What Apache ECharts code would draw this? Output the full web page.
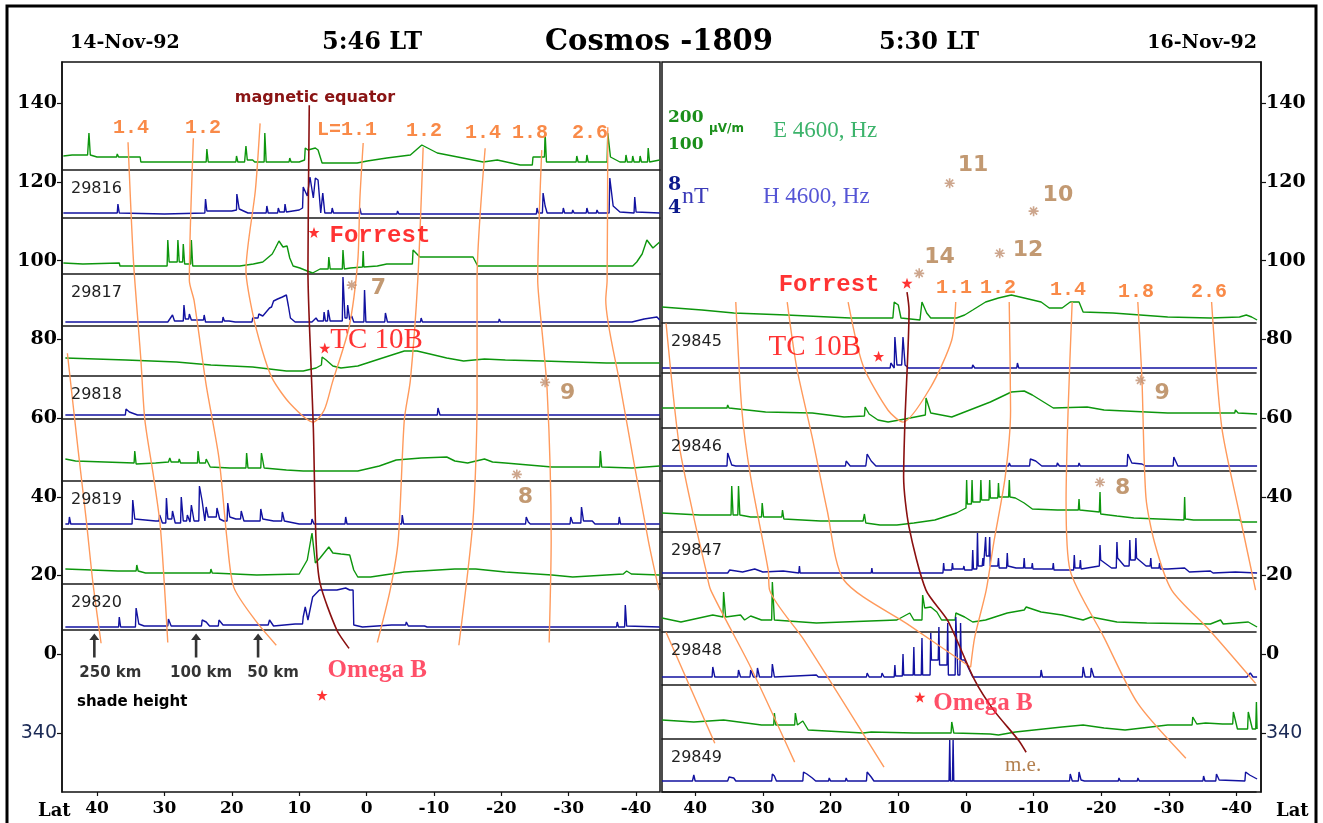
<!DOCTYPE html>
<html>
<head>
<meta charset="utf-8">
<title>Cosmos-1809</title>
<script src="https://cdn.jsdelivr.net/npm/echarts@6/dist/echarts.min.js"></script>
<style>
html, body { margin: 0; padding: 0; background: #fff; }
#chart { width: 1323px; height: 823px; }
</style>
</head>
<body>
<div id="chart"></div>
<script>
// axis ticks
var latTicks = [40, 30, 20, 10, 0, -10, -20, -30, -40];
var lonTicks = [140, 120, 100, 80, 60, 40, 20, 0, -20];   // -20 shown as 340

// traces: [lat, level above strip baseline]; e = E 4600 Hz (green), h = H 4600 Hz (blue)
// 14-Nov-92
var e29816 = [[45.0,14],[43.7,15],[41.4,15],[41.2,37],[41.0,15],[40.0,13],[37.1,13],[37.0,16],[36.8,13],[33.6,13],[33.5,8],[23.8,8],[23.7,21],[23.5,8],[19.8,8],[19.4,8],[19.3,14],[19.1,8],[18.1,8],[18.0,10],[17.9,24],[17.7,10],[16.9,10],[16.8,12],[16.6,8],[15.2,8],[15.1,37],[14.9,8],[11.5,8],[11.4,12],[11.2,8],[10.0,8],[9.9,10],[9.2,10],[9.1,22],[8.7,20],[7.6,22],[7.2,20],[6.6,7],[1.4,7],[-0.1,9],[-3.0,12],[-6.5,15],[-8.2,25],[-10.5,17],[-15.8,10],[-17.3,8],[-19.4,10],[-19.6,8],[-22.8,5],[-24.6,5],[-24.7,13],[-26.4,13],[-26.5,37],[-26.7,8],[-31.1,8],[-31.2,14],[-31.4,8],[-32.6,8],[-32.7,15],[-32.9,8],[-35.7,8],[-35.8,37],[-36.2,13],[-37.6,8],[-38.4,8],[-38.5,15],[-38.7,8],[-39.4,8],[-39.5,14],[-39.7,8],[-40.5,8],[-40.6,14],[-40.8,8],[-41.7,8],[-41.8,22],[-42.0,8],[-43.5,10]];
var h29816 = [[45.0,5],[37.0,5],[36.9,14],[36.7,5],[30,4],[24.0,5],[23.9,19],[23.7,7],[20,7],[19.3,8],[19.25,24],[18.9,9],[17.6,5],[14.9,5],[14.8,12],[14.6,5],[13.2,5],[13.1,10],[12.9,6],[12.2,6],[12.1,14],[11.9,6],[10,8],[9.5,10],[9.4,31],[8.8,22],[8.4,41],[7.9,20],[7.6,40],[7.2,38],[6.8,5],[6.6,5],[6.5,25],[6.2,5],[5.9,5],[5.2,5],[5.1,10],[4.9,5],[1.1,5],[1.0,10],[0.8,4],[-4.5,4],[-4.6,7],[-4.8,4],[-9.9,4],[-10,6],[-10.2,4],[-22.5,4],[-22.6,6],[-22.8,4],[-25.2,4],[-25.3,10],[-25.5,5],[-26.1,5],[-26.2,25],[-26.5,12],[-26.8,5],[-29.1,5],[-29.2,10],[-29.4,5],[-30.5,5],[-30.6,8],[-30.8,5],[-32.6,5],[-32.7,10],[-32.9,5],[-34.1,5],[-34.2,8],[-34.4,5],[-36.0,5],[-36.1,40],[-36.6,12],[-37.6,6],[-39.7,5],[-39.8,21],[-40.0,6],[-43.5,5]];
var e29817 = [[45.0,11],[42.1,10],[36.7,11],[36.6,8],[29.6,8],[29.5,34],[29.3,12],[28.1,12],[28.0,34],[27.8,12],[27.3,12],[27.2,30],[27.0,10],[26.1,10],[26.0,34],[25.8,8],[18.8,8],[18.7,6],[16.8,10],[15.4,12],[14.0,20],[13.6,25],[13.0,33],[12.4,27],[11.8,28],[11.4,16],[10.9,8],[9.9,6],[8.8,3],[8.0,1],[6.9,5],[5.7,5],[5.6,17],[5.4,5],[3.6,5],[3.5,24],[3.3,5],[2.4,6],[0.6,7],[0.5,23],[0.4,7],[-1.6,8],[-3.0,10],[-6.8,10],[-6.9,24],[-7.9,17],[-15.8,17],[-16.5,8],[-39.5,8],[-40.1,12],[-40.9,20],[-41.6,34],[-42.5,26],[-43.5,32]];
var h29817 = [[44.7,4],[41.3,4],[41.2,6],[41.0,4],[31.9,4],[31.8,6],[31.6,4],[29.5,4],[29.4,6],[28.8,11],[28.5,5],[27.2,5],[27.1,21],[26.9,7],[26.4,7],[26.3,12],[26.0,6],[24.2,6],[24.1,11],[23.9,4],[21.4,4],[21.3,9],[21.1,5],[20.4,5],[20.3,7],[19.5,4],[17.0,4],[16.9,8],[16.1,8],[16.0,12],[15.4,10],[14.4,18],[14.1,19],[13.8,25],[13.2,27],[12.5,29],[11.9,31],[11.6,20],[11.3,8],[10.6,4],[8.1,4],[7.5,8],[7.2,5],[6.4,5],[6.3,14],[6.1,5],[5.8,5],[5.7,16],[5.4,5],[3.6,5],[3.5,49],[3.2,8],[2.9,8],[2.8,21],[2.5,6],[2.2,10],[1.9,4],[0.4,4],[0.3,36],[0.1,4],[-2.7,4],[-2.8,13],[-3.1,4],[-8.0,4],[-8.1,8],[-8.3,4],[-19.6,4],[-19.7,7],[-19.9,4],[-26.1,4],[-26.2,6],[-26.6,4],[-39.4,4],[-41.2,7],[-43.1,9],[-43.5,6]];
var e29818 = [[44.7,18],[35.7,16],[28.2,14],[23.1,11],[16.9,9],[11.9,5],[9.4,5],[7.5,8],[6.7,11],[6.6,19],[6.0,16],[5.0,10],[3.8,8],[1.3,10],[-1.9,17],[-5.6,25],[-7.5,25],[-9.4,22],[-11.9,18],[-14.4,15],[-17.5,17],[-20.6,16],[-26.2,15],[-35.6,13],[-43.5,13]];
var h29818 = [[44.7,4],[35.8,4],[35.7,10],[35.2,7],[34.0,4],[31.3,4],[31.2,6],[30.9,4],[26.7,4],[26.6,5],[26.4,4],[13.9,4],[13.8,6],[13.6,4],[-1.8,4],[-1.9,6],[-2.1,4],[-10.5,4],[-10.6,11],[-10.9,4],[-32.4,4],[-32.5,6],[-32.7,4],[-43.5,4]];
var e29819 = [[44.7,22],[43.2,20],[34.5,18],[34.4,30],[34.2,17],[31.3,18],[29.4,19],[29.2,23],[29.0,19],[27.9,19],[27.8,22],[27.6,18],[25.1,18],[25.0,30],[24.8,18],[23.9,18],[23.8,22],[23.2,14],[20.3,13],[17.9,13],[17.8,28],[17.6,13],[15.7,13],[15.6,28],[15.2,13],[11.9,11],[9.4,10],[1.3,10],[-1.9,15],[-4.4,21],[-8.1,23],[-11.9,24],[-13.1,20],[-15.0,18],[-17.5,22],[-18.7,19],[-20.6,18],[-27.5,14],[-34.6,14],[-34.7,30],[-34.9,14],[-39.4,13],[-43.5,15]];
var h29819 = [[44.7,5],[44.2,5],[44.1,12],[43.9,5],[34.8,5],[34.7,29],[34.4,10],[31.3,8],[30.8,8],[30.7,14],[30.3,6],[29.8,6],[29.7,31],[29.5,10],[28.9,10],[28.8,18],[28.4,6],[27.6,6],[27.5,32],[27.2,8],[26.7,8],[26.6,14],[26.2,7],[26.1,7],[26.0,24],[25.6,8],[24.9,8],[24.8,43],[24.4,28],[24.0,8],[23.9,8],[23.8,22],[23.5,12],[22.3,12],[22.2,21],[21.8,10],[21.2,8],[20.7,8],[20.6,26],[20.3,12],[19.4,10],[18.7,10],[18.6,18],[18.2,8],[15.8,8],[15.7,20],[15.4,10],[13.8,8],[12.6,8],[12.5,17],[12.2,8],[10.0,5],[8.2,5],[8.1,10],[7.8,5],[3.2,5],[3.1,12],[2.9,5],[-5.2,5],[-5.3,14],[-5.5,5],[-13.0,5],[-13.1,6],[-13.3,5],[-23.6,5],[-23.7,12],[-24.0,7],[-24.3,5],[-30.2,5],[-30.3,12],[-30.6,6],[-31.8,6],[-31.9,22],[-32.2,8],[-33.5,8],[-33.6,10],[-33.9,5],[-37.4,5],[-37.5,12],[-37.7,5],[-43.5,5]];
var e29820 = [[44.7,15],[36.9,13],[34.2,13],[34.1,19],[33.9,13],[32.8,11],[23.2,11],[23.1,15],[22.9,11],[16.3,9],[10.0,10],[8.8,24],[8.1,51],[7.6,21],[6.9,26],[5.6,37],[5.0,31],[3.8,30],[2.5,29],[1.9,14],[1.3,7],[-0.6,7],[-5.6,12],[-13.1,15],[-16.2,15],[-20.6,12],[-27.5,9],[-30.6,7],[-38.1,10],[-38.6,13],[-39.3,10],[-43.5,9]];
var h29820 = [[44.7,3],[36.8,3],[36.7,13],[36.5,3],[34.3,3],[34.2,22],[33.8,6],[33.0,4],[29.5,4],[29.4,11],[29.0,4],[24.5,4],[24.4,10],[23.8,8],[23.3,4],[22.0,4],[21.9,10],[21.3,5],[14.6,5],[14.4,10],[13.8,4],[10.6,6],[9.5,6],[9.4,13],[9.1,23],[8.7,10],[8.0,33],[7.0,40],[4.4,40],[3.1,42],[2.5,40],[2.0,40],[1.9,5],[0.6,3],[-3.7,5],[-5.8,5],[-5.9,8],[-6.2,4],[-8.6,4],[-8.7,6],[-9.0,3],[-37.1,3],[-37.2,8],[-37.4,3],[-38.3,3],[-38.4,25],[-38.6,4],[-43.5,3]];
// 16-Nov-92
var e29845 = [[44.9,16],[39.0,13],[34.3,10],[26.5,8],[17.1,5],[10.8,5],[10.6,21],[10.0,18],[9.6,5],[6.8,3],[6.5,21],[5.8,10],[5.2,5],[1.4,5],[0.2,8],[-1.0,13],[-2.9,21],[-4.8,25],[-6.7,28],[-8.6,25],[-11.1,21],[-12.3,15],[-14.2,15],[-15.4,21],[-16.7,21],[-17.3,11],[-21.7,10],[-29.8,6],[-36.1,5],[-40.4,6],[-41.4,8],[-42.2,6],[-43.0,3]];
var h29845 = [[44.9,5],[41.6,5],[41.5,6],[40.5,5],[30.9,5],[30.8,6],[30.5,5],[21.9,5],[21.8,7],[21.5,5],[11.2,5],[11.1,10],[10.6,5],[10.5,36],[10.2,8],[9.5,8],[9.3,36],[9.0,8],[8.5,5],[6.6,5],[6.5,6],[6.2,5],[-0.9,5],[-1.0,8],[-1.3,5],[-7.5,5],[-7.6,10],[-7.8,5],[-13.5,5],[-13.6,7],[-13.8,5],[-17.2,5],[-17.3,6],[-17.5,5],[-43.0,5]];
var e29846 = [[44.9,20],[35.3,20],[35.2,23],[35.0,20],[29.6,16],[22.7,15],[18.0,11],[15.0,12],[14.9,21],[14.3,14],[13.0,8],[11.5,6],[9.0,9],[6.0,13],[5.9,30],[5.2,15],[2.1,11],[0.2,16],[-3.6,26],[-6.7,36],[-8.6,37],[-9.8,33],[-12.9,20],[-17.9,21],[-20.4,18],[-29.8,15],[-39.7,15],[-39.8,18],[-40.2,15],[-43.0,14]];
var h29846 = [[44.9,5],[35.3,5],[35.2,18],[34.6,6],[34.0,5],[29.4,5],[29.3,6],[29.0,5],[17.8,5],[17.7,10],[17.1,5],[14.8,5],[14.7,10],[14.6,17],[14.0,10],[13.3,5],[-6.3,5],[-6.4,8],[-6.6,5],[-9.4,5],[-9.5,12],[-10.3,10],[-11.2,5],[-13.4,5],[-13.5,8],[-13.8,5],[-14.7,5],[-14.8,7],[-15.0,5],[-16.6,5],[-16.7,8],[-16.9,5],[-23.8,5],[-23.9,17],[-24.5,8],[-26.0,7],[-26.5,5],[-30.6,5],[-30.7,14],[-31.3,5],[-36.2,5],[-36.3,6],[-36.5,5],[-38.9,5],[-39.0,7],[-39.2,5],[-43.0,5]];
var e29847 = [[44.9,19],[39.3,17],[34.7,17],[34.6,46],[34.4,17],[33.7,17],[33.6,46],[33.4,17],[31.8,15],[30.2,15],[30.1,29],[29.9,15],[27.2,15],[27.1,22],[26.9,13],[21.5,11],[15.2,11],[15.0,18],[14.8,9],[12.7,7],[10.2,7],[7.7,9],[4.6,12],[1.4,19],[0.0,24],[-0.1,52],[-0.2,28],[-0.8,28],[-0.9,52],[-1.0,30],[-2.1,30],[-2.2,52],[-2.3,32],[-3.4,32],[-3.5,52],[-3.6,34],[-4.7,34],[-4.8,49],[-4.9,35],[-6.3,35],[-6.4,52],[-6.5,35],[-7.3,34],[-8.6,29],[-9.8,23],[-13.5,22],[-16.6,22],[-16.7,33],[-16.8,22],[-19.7,20],[-19.8,40],[-19.9,18],[-22.3,16],[-24.8,14],[-32.2,12],[-32.3,35],[-32.4,13],[-33.6,12],[-40.4,12],[-40.7,10],[-43.0,10]];
var h29847 = [[44.9,5],[35.2,5],[34.9,8],[33.0,6],[31.2,9],[30.0,6],[27.0,7],[24.7,5],[24.6,12],[24.5,5],[14.0,5],[13.9,10],[13.8,5],[7.7,5],[7.6,6],[4.0,5],[3.4,5],[3.3,15],[3.2,8],[2.1,8],[2.0,15],[1.9,9],[0.4,9],[0.3,12],[0.2,8],[-0.9,8],[-1.0,28],[-1.1,9],[-1.6,9],[-1.7,45],[-1.8,12],[-2.4,12],[-2.5,20],[-2.6,12],[-2.8,12],[-2.9,41],[-3.0,22],[-3.4,22],[-3.5,41],[-3.6,12],[-4.7,12],[-4.8,20],[-4.9,10],[-6.0,10],[-6.1,25],[-6.2,12],[-7.4,10],[-8.5,10],[-8.6,20],[-8.7,10],[-9.7,10],[-9.8,15],[-9.9,9],[-12.8,9],[-12.9,15],[-13.0,8],[-15.9,8],[-16.0,23],[-16.1,10],[-16.8,10],[-16.9,18],[-17.0,9],[-19.7,12],[-19.8,33],[-19.9,18],[-21.5,10],[-22.2,10],[-22.3,36],[-22.4,20],[-23.4,12],[-24.1,12],[-24.2,38],[-24.3,18],[-25.0,18],[-25.1,40],[-25.2,20],[-26.6,12],[-27.2,12],[-27.3,20],[-27.4,10],[-28.5,10],[-28.6,15],[-28.7,9],[-29.8,9],[-32.3,10],[-33.0,6],[-36.1,7],[-36.5,5],[-39.8,6],[-43.0,5]];
var e29848 = [[44.9,14],[42.1,10],[37.4,17],[35.9,15],[35.8,40],[35.5,15],[33.3,17],[32.7,12],[31.8,16],[30.2,12],[28.7,12],[28.6,50],[28.3,12],[22.1,9],[10.2,12],[8.3,19],[7.7,12],[6.5,12],[6.4,37],[6.1,24],[5.2,25],[4.3,20],[3.6,12],[1.6,12],[1.5,19],[0.2,15],[-1.0,10],[-2.9,12],[-6.1,19],[-8.6,22],[-8.9,25],[-11.1,20],[-14.2,17],[-17.3,12],[-18.5,15],[-22.3,10],[-26.7,9],[-36.1,8],[-37.6,12],[-38.0,8],[-41.7,10],[-43.0,5]];
var h29848 = [[44.9,8],[37.5,8],[37.4,18],[37.1,8],[33.7,8],[33.6,15],[33.3,8],[31.9,8],[31.8,15],[31.4,8],[30.9,8],[30.8,17],[30.5,8],[28.7,8],[28.6,21],[28.3,8],[22.1,10],[21.8,8],[14.7,8],[14.6,12],[14.3,8],[12.5,8],[12.4,12],[12.1,8],[10.6,8],[10.5,20],[10.4,9],[9.4,9],[9.3,31],[9.2,10],[7.8,10],[7.7,38],[7.6,10],[6.6,10],[6.5,47],[6.4,10],[5.3,10],[5.2,52],[5.1,25],[4.1,25],[4.0,58],[3.9,20],[2.8,20],[2.7,62],[2.6,10],[1.6,10],[1.5,68],[1.2,10],[0.9,10],[0.8,62],[0.7,25],[0.2,25],[-1.0,8],[-4.7,8],[-4.8,10],[-5.0,8],[-11.0,8],[-11.1,15],[-11.3,8],[-17.2,8],[-17.3,18],[-17.6,8],[-18.4,8],[-18.5,17],[-18.9,8],[-41.5,8],[-42.0,12],[-42.4,8],[-43.0,8]];
var e29849 = [[44.9,19],[40.2,17],[35.8,19],[30.2,14],[28.4,14],[28.3,26],[28.1,14],[25.3,14],[25.2,26],[24.9,14],[24.1,18],[23.3,9],[15.2,6],[14.0,7],[7.7,6],[2.2,6],[2.1,17],[1.8,6],[-3.6,5],[-4.8,4],[-7.3,7],[-14.2,12],[-17.3,14],[-20.4,11],[-23.5,9],[-29.8,14],[-33.4,14],[-33.5,22],[-34.1,15],[-35.4,16],[-37.9,15],[-39.4,15],[-39.5,27],[-40.1,10],[-41.6,10],[-41.7,27],[-42.3,10],[-42.8,10],[-42.9,37],[-43.0,10]];
var h29849 = [[44.9,11],[40.4,11],[40.2,17],[40.0,11],[35.2,11],[35.1,11],[35.0,15],[34.3,14],[34.0,11],[28.7,11],[28.6,18],[28.3,16],[28.0,11],[24.1,11],[24.0,20],[23.5,18],[22.7,14],[22.2,11],[20.3,11],[20.2,14],[20.0,11],[17.8,11],[17.7,14],[17.5,11],[14.7,11],[14.6,20],[14.0,15],[13.6,11],[10.0,11],[9.9,13],[9.7,11],[6.6,11],[6.5,12],[6.3,11],[2.5,11],[2.4,52],[2.3,11],[2.0,11],[1.9,52],[1.8,11],[0.3,11],[0.2,13],[0.0,11],[-4.7,11],[-4.8,13],[-5.0,11],[-11.9,11],[-12.0,13],[-12.2,11],[-15.3,11],[-15.4,18],[-15.7,11],[-16.6,11],[-16.7,20],[-17.0,12],[-17.5,11],[-22.5,11],[-22.6,14],[-22.8,11],[-25.3,11],[-25.4,14],[-25.6,11],[-31.6,11],[-31.7,13],[-31.9,11],[-35.0,11],[-35.1,16],[-35.3,11],[-36.9,11],[-37.0,18],[-37.4,12],[-41.2,11],[-41.3,20],[-41.9,17],[-43.0,13]];

// L-shell lines and magnetic equator: [lat, lon]
var shellL_14n = [[35.4,130.1],[34.6,100.1],[33.5,75.0],[32.9,59.5],[31.6,45.0],[30.6,32.3],[29.5,3.0]];
var shellL_12n = [[25.7,131.1],[26.3,95.0],[25.6,89.9],[23.8,68.4],[21.9,49.8],[20.7,29.0],[19.7,17.0],[16.5,8.6],[13.4,2.3]];
var shellL_11 = [[15.8,134.9],[16.5,117.9],[17.9,97.6],[17.0,87.4],[15.5,77.3],[14.0,70.1],[11.4,63.8],[7.9,59.0],[6.3,62.0],[5.1,68.9],[2.6,83.1],[1.3,100.1],[1.0,115.4],[0.5,129.9]];
var shellL_12s = [[-8.4,128.8],[-7.6,95.0],[-6.5,69.6],[-5.6,59.5],[-4.7,29.0],[-3.5,16.3],[-1.6,3.0]];
var shellL_14s = [[-17.6,128.6],[-16.4,95.0],[-16.4,64.5],[-15.8,34.1],[-13.7,2.3]];
var shellL_18 = [[-26.0,128.1],[-25.4,95.0],[-25.6,90.0],[-26.8,67.1],[-27.4,29.0],[-27.1,3.0]];
var shellL_26 = [[-35.8,133.9],[-35.7,95.0],[-35.5,90.0],[-37.5,69.6],[-41.8,29.0],[-43.4,16.3]];
var shellL_edge = [[44.4,76.5],[42.8,51.8],[41.6,34.1],[40.6,18.0],[39.4,2.8]];
var equatorL = [[8.5,139.5],[8.7,97.6],[8.2,71.4],[7.9,57.7],[7.5,29.0],[6.9,18.0],[4.4,6.1],[2.6,1.5]];

var shellR_a = [[44.3,84.1],[42.4,53.6],[40.2,34.8],[38.4,21.3],[37.7,16.3],[31.8,-3.3],[25.3,-27.4]];
var shellR_b = [[34.0,89.5],[33.1,62.0],[31.8,45.0],[29.2,21.3],[29.0,16.3],[23.9,3.6],[12.1,-28.7]];
var shellR_12n = [[26.4,89.5],[25.0,72.9],[22.7,55.1],[20.5,36.6],[18.0,18.8],[8.4,7.4],[-0.7,-3.3]];
var shellR_11 = [[17.4,89.5],[15.2,73.4],[11.5,62.0],[9.3,59.0],[5.2,67.9],[2.1,79.8],[1.5,89.5]];
var shellR_12s = [[-6.4,89.5],[-6.6,62.0],[-5.8,45.0],[-4.1,28.2],[-3.0,16.3],[-1.3,4.3],[-0.7,-3.3]];
var shellR_14 = [[-15.7,89.5],[-15.1,62.0],[-14.8,39.1],[-15.4,21.3],[-20.4,4.3],[-25.4,-12.5],[-32.5,-26.4]];
var shellR_18 = [[-25.4,89.5],[-26.0,70.4],[-26.6,39.9],[-27.9,28.2],[-30.4,16.3],[-36.0,6.1],[-42.8,-7.4]];
var shellR_26 = [[-36.3,89.5],[-37.8,57.7],[-40.3,36.6],[-42.8,16.3]];
var shellR_edge = [[44.3,5.6],[37.1,-22.6]];
var equatorR = [[8.7,92.0],[8.4,87.4],[9.0,59.5],[9.2,45.0],[8.4,32.3],[5.9,16.3],[2.7,8.6],[-1.3,-6.6],[-4.1,-14.2],[-7.8,-21.9],[-8.9,-24.9]];

// stations (red stars) and numbered events (asterisks): [name, lat, lon]
var stationsL = [['Forrest',7.8,107.2],['TC 10B',6.2,77.8],['Omega B',6.6,-10.4]];
var eventsL = [['7',2.2,93.8],['9',-26.5,69.1],['8',-22.3,45.7]];
var stationsR = [['Forrest',8.7,94.3],['TC 10B',12.9,75.7],['Omega B',6.8,-10.9]];
var eventsR = [['11',2.4,119.7],['10',-10.0,112.6],['12',-5.0,101.9],['14',6.9,96.8],['9',-25.8,69.6],['8',-19.8,43.7]];
var shadeArrows = [['250 km',40.4,2.2],['100 km',25.3,2.2],['50 km',16.1,2.2]];

// ---------- layout ----------
var panels = [
    { left: 62, width: 598, latMin: -43.55, latMax: 45.2, side: 'left', stripWidth: 598, stripLatMin: -43.55 },
    { left: 662, width: 599, latMin: -43.6, latMax: 44.9, side: 'right', stripWidth: 594, stripLatMin: -42.84 }
];
var lonMin = -35, lonMax = 150.5;

// [panel, top, height, trace, kind, orbit]
var strips = [
    [0, 100, 70, e29816, 'E', '29816'], [0, 170, 48, h29816, 'H', '29816'],
    [0, 218, 56, e29817, 'E', '29817'], [0, 274, 52, h29817, 'H', '29817'],
    [0, 326, 50, e29818, 'E', '29818'], [0, 376, 43, h29818, 'H', '29818'],
    [0, 419, 62, e29819, 'E', '29819'], [0, 481, 48, h29819, 'H', '29819'],
    [0, 529, 55, e29820, 'E', '29820'], [0, 584, 46, h29820, 'H', '29820'],
    [1, 250, 73, e29845, 'E', '29845'], [1, 323, 50, h29845, 'H', '29845'],
    [1, 373, 55, e29846, 'E', '29846'], [1, 428, 43, h29846, 'H', '29846'],
    [1, 471, 61, e29847, 'E', '29847'], [1, 532, 46, h29847, 'H', '29847'],
    [1, 578, 54, e29848, 'E', '29848'], [1, 632, 53, h29848, 'H', '29848'],
    [1, 685, 54, e29849, 'E', '29849'], [1, 739, 53, h29849, 'H', '29849']
];

var grids = [], xAxes = [], yAxes = [], series = [], graphics = [];

panels.forEach(function (p, k) {
    grids.push({ left: p.left, top: 62, width: p.width, height: 730, show: true,
        borderColor: '#111', borderWidth: 1.5, backgroundColor: 'transparent' });
    xAxes.push({ gridIndex: k, type: 'value', min: p.latMin, max: p.latMax, inverse: true, position: 'bottom',
        axisLine: { show: false, onZero: false }, splitLine: { show: false },
        axisTick: { show: true, customValues: latTicks, length: 4, lineStyle: { color: '#111', width: 1.2 } },
        axisLabel: { customValues: latTicks, margin: 8, color: '#000',
            fontFamily: 'DejaVu Serif', fontWeight: 'bold', fontSize: 17 } });
    yAxes.push({ gridIndex: k, type: 'value', min: lonMin, max: lonMax, position: p.side,
        axisLine: { show: true, onZero: false, lineStyle: { color: '#111', width: 1.5 } },
        splitLine: { show: false },
        axisTick: { show: true, customValues: lonTicks, length: 5, lineStyle: { color: '#111', width: 1.2 } },
        axisLabel: { customValues: lonTicks, margin: 5, color: '#000',
            fontFamily: 'DejaVu Serif', fontWeight: 'bold', fontSize: 19,
            formatter: function (v) { return v < 0 ? '{w|' + (v + 360) + '}' : String(v); },
            rich: { w: { fontFamily: 'DejaVu Sans', fontWeight: 'normal', fontSize: 19, color: '#1b2a55' } } } });
});

strips.forEach(function (s) {
    var p = panels[s[0]], i = grids.length;
    grids.push({ left: p.left, top: s[1], width: p.stripWidth, height: s[2], show: false });
    xAxes.push({ gridIndex: i, type: 'value', min: p.stripLatMin, max: p.latMax, inverse: true, position: 'bottom',
        axisLine: { show: true, onZero: false, lineStyle: { color: '#1a1a1a', width: 1.6 } },
        axisTick: { show: false }, axisLabel: { show: false }, splitLine: { show: false } });
    yAxes.push({ gridIndex: i, type: 'value', min: 0, max: s[2], show: false });
    series.push({ type: 'line', xAxisIndex: i, yAxisIndex: i, data: s[3], showSymbol: false,
        clip: false, silent: true, z: 2,
        lineStyle: { color: s[4] === 'E' ? '#0d960d' : '#1212a0', width: 1.4 } });
    if (s[4] === 'H') {
        graphics.push({ type: 'text', z: 10, style: { text: s[5], x: p.left + 9, y: s[1] + 19,
            fill: '#222', font: '16px "DejaVu Sans"', textVerticalAlign: 'middle', verticalAlign: 'middle' } });
    }
});

function lineSeries(k, data, color, width) {
    series.push({ type: 'line', xAxisIndex: k, yAxisIndex: k, data: data, showSymbol: false,
        smooth: 0.25, silent: true, z: 3, lineStyle: { color: color, width: width } });
}
[shellL_14n, shellL_12n, shellL_11, shellL_12s, shellL_14s, shellL_18, shellL_26, shellL_edge]
    .forEach(function (d) { lineSeries(0, d, '#ff9a5c', 1.4); });
[shellR_a, shellR_b, shellR_12n, shellR_11, shellR_12s, shellR_14, shellR_18, shellR_26, shellR_edge]
    .forEach(function (d) { lineSeries(1, d, '#ff9a5c', 1.4); });
lineSeries(0, equatorL, '#8a1010', 1.6);
lineSeries(1, equatorR, '#8a1010', 1.6);

var starPath = 'path://M0,-10 L2.4,-3.1 L9.5,-3.1 L3.8,1.2 L5.9,8.1 L0,4 L-5.9,8.1 L-3.8,1.2 L-9.5,-3.1 L-2.4,-3.1 Z';
var asteriskPath = 'path://M-0.8,-5 L0.8,-5 L0.8,5 L-0.8,5 Z M-5,-0.8 L5,-0.8 L5,0.8 L-5,0.8 Z ' +
    'M2.97,-4.1 L4.1,-2.97 L-2.97,4.1 L-4.1,2.97 Z M-2.97,-4.1 L4.1,2.97 L2.97,4.1 L-4.1,-2.97 Z';
var arrowPath = 'path://M0,0 L5,7 L1.3,7 L1.3,26 L-1.3,26 L-1.3,7 L-5,7 Z';

var stationFont = {
    'Forrest': { fontFamily: 'Liberation Mono', fontWeight: 'bold', fontSize: 24, color: '#ff0000' },
    'TC 10B': { fontFamily: 'Liberation Serif', fontWeight: 'normal', fontSize: 29, color: '#ff0000' },
    'Omega B': { fontFamily: 'Liberation Serif', fontWeight: 'bold', fontSize: 25, color: '#ff2444' }
};
var stationLabelL = {
    'Forrest': { position: 'right', distance: 10, offset: [0, 4] },
    'TC 10B': { position: 'right', distance: 0, offset: [0, -8] },
    'Omega B': { position: 'right', distance: 4, offset: [-4, -25] }
};
var stationLabelR = {
    'Forrest': { position: 'left', distance: 22, offset: [0, 2] },
    'TC 10B': { position: 'left', distance: 12, offset: [0, -9] },
    'Omega B': { position: 'right', distance: 8, offset: [0, 6] }
};
var eventLabelL = { '7': [14, 3], '9': [10, 11], '8': [-4, 23] };
var eventLabelR = { '11': [3, -18], '10': [4, -16], '12': [8, -3], '14': [0, -16], '9': [9, 13], '8': [10, 6] };

function stationSeries(k, list, labels) {
    series.push({ type: 'scatter', xAxisIndex: k, yAxisIndex: k, symbol: starPath, symbolSize: 11,
        itemStyle: { color: '#ff0000' }, silent: true, z: 6,
        data: list.map(function (s) {
            return { value: [s[1], s[2]], label: Object.assign({ show: true, formatter: s[0] }, stationFont[s[0]], labels[s[0]]) };
        }) });
}
function eventSeries(k, list, offsets) {
    series.push({ type: 'scatter', xAxisIndex: k, yAxisIndex: k, symbol: asteriskPath, symbolSize: 10,
        itemStyle: { color: '#c09070' }, silent: true, z: 6,
        data: list.map(function (s) {
            return { value: [s[1], s[2]], label: { show: true, formatter: s[0], position: 'right', distance: 0,
                offset: offsets[s[0]], fontFamily: 'DejaVu Sans', fontWeight: 'bold', fontSize: 22, color: '#b3804f' } };
        }) });
}
stationSeries(0, stationsL, stationLabelL);
stationSeries(1, stationsR, stationLabelR);
eventSeries(0, eventsL, eventLabelL);
eventSeries(1, eventsR, eventLabelR);

var arrowLabelOffset = { '250 km': [16, 4], '100 km': [5, 4], '50 km': [15, 4] };
series.push({ type: 'scatter', xAxisIndex: 0, yAxisIndex: 0, symbol: arrowPath, symbolSize: [10, 24],
    itemStyle: { color: '#000' }, silent: true, z: 6,
    data: shadeArrows.map(function (a) {
        return { value: [a[1], a[2]], label: { show: true, formatter: a[0], position: 'bottom', distance: 4,
            offset: arrowLabelOffset[a[0]], fontFamily: 'DejaVu Sans', fontWeight: 'bold', fontSize: 15, color: '#000' } };
    }) });

// ---------- texts ----------
function txt(text, x, y, font, fill, align) {
    graphics.push({ type: 'text', z: 10, style: { text: text, x: x, y: y, font: font, fill: fill,
        textAlign: align || 'left', align: align || 'left', textVerticalAlign: 'middle', verticalAlign: 'middle' } });
}
var serifB = '"DejaVu Serif"';
txt('14-Nov-92', 70, 43, 'bold 19px ' + serifB, '#000');
txt('5:46 LT', 372, 43, 'bold 24px ' + serifB, '#000', 'center');
txt('Cosmos -1809', 659, 42, 'bold 29px ' + serifB, '#000', 'center');
txt('5:30 LT', 929, 43, 'bold 24px ' + serifB, '#000', 'center');
txt('16-Nov-92', 1257, 43, 'bold 19px ' + serifB, '#000', 'right');
txt('Lat', 38, 811, 'bold 18px ' + serifB, '#000');
txt('Lat', 1276, 811, 'bold 18px ' + serifB, '#000');
txt('magnetic equator', 315, 98, 'bold 16px "DejaVu Sans"', '#8a1414', 'center');
txt('shade height', 77, 702, 'bold 15px "DejaVu Sans"', '#000');
txt('m.e.', 1005, 765, '21px "Liberation Serif"', '#b3804f');

var shellFont = 'bold 20px "Liberation Mono"', shellColor = '#f98a48';
[['1.4', 131, 128], ['1.2', 203, 128], ['L=1.1', 347, 130], ['1.2', 424, 131], ['1.4', 483, 133],
 ['1.8', 530, 133], ['2.6', 590, 133], ['1.1', 954, 288], ['1.2', 998, 288], ['1.4', 1068, 290],
 ['1.8', 1136, 292], ['2.6', 1209, 292]].forEach(function (t) { txt(t[0], t[1], t[2], shellFont, shellColor, 'center'); });

txt('200', 668, 118, 'bold 17px ' + serifB, '#1a8f1a');
txt('100', 668, 145, 'bold 17px ' + serifB, '#1a8f1a');
txt('\u00b5V/m', 709, 129, 'bold 12px "DejaVu Sans"', '#1a8f1a');
txt('E 4600, Hz', 773, 131, '23px "Liberation Serif"', '#3cb36b');
txt('8', 668, 185, 'bold 19px ' + serifB, '#0c1a8c');
txt('4', 668, 208, 'bold 19px ' + serifB, '#0c1a8c');
txt('nT', 682, 197, '24px "Liberation Serif"', '#3a3ab8');
txt('H 4600, Hz', 763, 197, '23px "Liberation Serif"', '#5555d5');

graphics.push({ type: 'rect', z: 10, shape: { x: 7, y: 6, width: 1309, height: 840 },
    style: { fill: 'none', stroke: '#000', lineWidth: 3 } });

var chart = echarts.init(document.getElementById('chart'));
chart.setOption({
    animation: false,
    backgroundColor: '#fff',
    grid: grids,
    xAxis: xAxes,
    yAxis: yAxes,
    series: series,
    graphic: graphics
});
</script>
</body>
</html>
